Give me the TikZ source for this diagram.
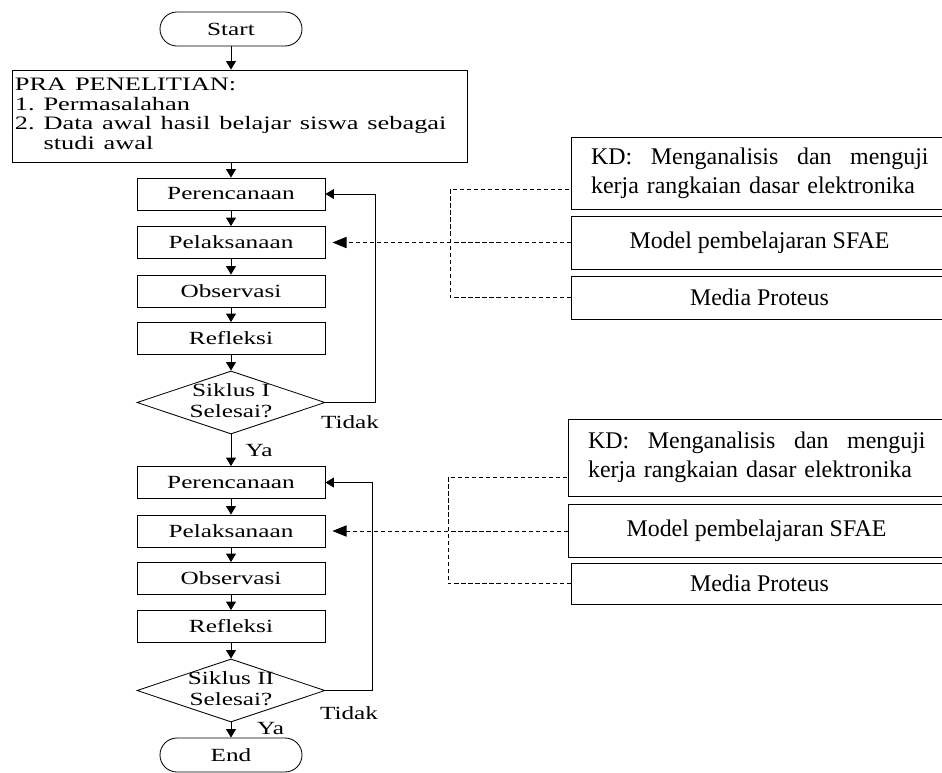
\documentclass[tikz,border=0pt]{standalone}
\usepackage{fontspec}
\setmainfont{Liberation Serif}
\usepackage{graphicx}
\usetikzlibrary{arrows.meta, shapes.geometric}

% teks kolom kiri dibuat melebar seperti aslinya
\newcommand{\lebar}[1]{\scalebox{1.36}[1]{#1}}
\newcommand{\fkiri}{\fontsize{13.2}{15}\selectfont}
\newcommand{\fkanan}{\fontsize{17}{20.6}\selectfont}

\begin{document}
\begin{tikzpicture}[x=0.025cm, y=-0.025cm, line width=0.6pt,
	>={Triangle[length=6pt, width=7pt]},
	kotak/.style={draw, minimum width=4.7cm, minimum height=0.8cm, inner sep=0pt, font=\fkiri},
	ujung/.style={draw, rounded corners=0.425cm, minimum width=3.55cm, minimum height=0.85cm, inner sep=0pt, font=\fkiri},
	belah/.style={draw, diamond, minimum width=4.7cm, minimum height=1.575cm, inner sep=0pt},
	kanan/.style={draw, anchor=west, minimum width=9.4cm, inner sep=0pt, font=\fkanan},
	kdbox/.style={kanan, text width=240pt, inner xsep=14pt, align=left},
	putus/.style={dash pattern=on 3pt off 2pt},
	panah/.style={-{Triangle[length=10pt, width=8pt]}, shorten >=5pt}]
	
	% ukuran gambar tetap (piksel)
	\useasboundingbox (0,0) rectangle (942,772);
	\clip (0,0) rectangle (942,772);
	
	% mulai dan pra penelitian
	\node[ujung] (start) at (231,29) {\lebar{Start}};
	\node[draw, text width=11.225cm, inner xsep=0.075cm, inner ysep=0pt, minimum height=2.3cm, align=left,
		font=\fontsize{13.5}{14.2}\selectfont] (pra) at (239.5,116)
		{\scalebox{1.39}[1]{\begin{tabular}{@{}l@{}}PRA PENELITIAN:\\ 1.\ Permasalahan\\ 2.\ Data awal hasil belajar siswa sebagai\\ \phantom{2.\ }studi awal\end{tabular}}};
	
	% siklus I
	\node[kotak] (per1) at (231,194) {\lebar{Perencanaan}};
	\node[kotak] (pel1) at (231,242.5) {\lebar{Pelaksanaan}};
	\node[kotak] (obs1) at (231,291) {\lebar{Observasi}};
	\node[kotak] (ref1) at (231,338.5) {\lebar{Refleksi}};
	\node[belah, label={[font=\fkiri]center:{\lebar{\begin{tabular}{@{}c@{}}Siklus I\\ Selesai?\end{tabular}}}}] (sik1) at (231,402.5) {};
	\node[font=\fkiri] (tdk1) at (350,422) {\lebar{Tidak}};
	
	% siklus II
	\node[kotak] (per2) at (231,482.5) {\lebar{Perencanaan}};
	\node[kotak] (pel2) at (231,531) {\lebar{Pelaksanaan}};
	\node[kotak] (obs2) at (231,578.5) {\lebar{Observasi}};
	\node[kotak] (ref2) at (231,626.5) {\lebar{Refleksi}};
	\node[belah, label={[font=\fkiri]center:{\lebar{\begin{tabular}{@{}c@{}}Siklus II\\ Selesai?\end{tabular}}}}] (sik2) at (231,690.5) {};
	\node[font=\fkiri] (tdk2) at (349,713) {\lebar{Tidak}};
	\node[ujung] (end) at (231,755) {\lebar{End}};
	
	% kotak di kanan (terpotong di tepi)
	\node[kdbox, minimum height=1.8cm] (kd1) at (571,173) {KD:\hfill Menganalisis\hfill dan\hfill menguji\\ kerja rangkaian dasar elektronika};
	\node[kanan, minimum height=1.325cm] (mod1) at (571,242.5) {Model pembelajaran SFAE};
	\node[kanan, minimum height=1.075cm] (med1) at (571,297.5) {Media Proteus};
	\node[kdbox, minimum height=1.925cm] (kd2) at (568,457.5) {KD:\hfill Menganalisis\hfill dan\hfill menguji\\ kerja rangkaian dasar elektronika};
	\node[kanan, minimum height=1.325cm] (mod2) at (568,531) {Model pembelajaran SFAE};
	\node[kanan, minimum height=1.025cm] (med2) at (571,583.5) {Media Proteus};
	
	% panah alur
	\draw[->] (start) -- (start |- pra.north);
	\draw[->] (per1 |- pra.south) -- (per1);
	\foreach \a/\b in {per1/pel1, pel1/obs1, obs1/ref1, ref1/sik1, per2/pel2, pel2/obs2, obs2/ref2, ref2/sik2, sik2/end}
		\draw[->] (\a) -- (\b);
	\draw[->] (sik1) -- node[right=0.24cm, font=\fkiri] {\lebar{Ya}} (per2);
	\node[font=\fkiri, anchor=west] (ya2) at (252,729) {\lebar{Ya}};
	
	% kembali jika belum selesai
	\draw[->] (sik1.east) -- ++(50,0) |- (per1.east);
	\draw[->] (sik2.east) -- ++(47,0) |- (per2.east);
	
	% garis putus-putus dari kotak kanan
	\coordinate (c1) at (450,189);
	\draw[putus] (med1.west) -| (c1) -- (kd1.west |- c1);
	\draw[putus, panah] (mod1.west) -- (pel1.east);
	\coordinate (c2) at (448,477);
	\draw[putus] (med2.west) -| (c2) -- (kd2.west |- c2);
	\draw[putus, panah] (mod2.west) -- (pel2.east);
\end{tikzpicture}
\end{document}
